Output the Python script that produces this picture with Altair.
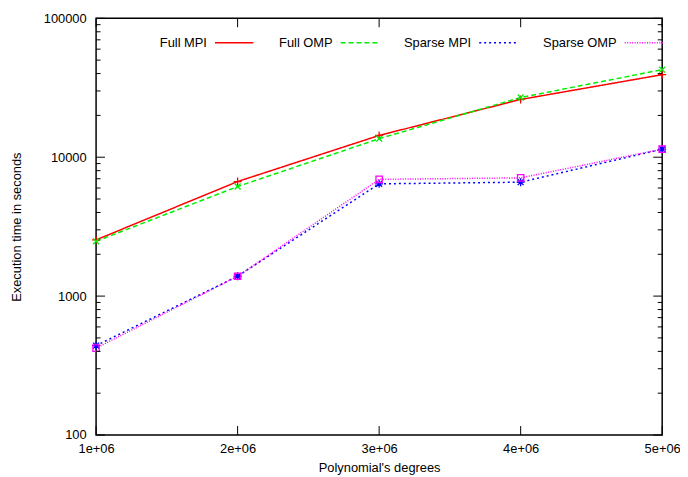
import altair as alt
import pandas as pd

degrees = [1e6, 2e6, 3e6, 4e6, 5e6]
series_names = ["Full MPI", "Full OMP", "Sparse MPI", "Sparse OMP"]
full_mpi = [2540, 6680, 14350, 26050, 39300]
full_omp = [2480, 6150, 13600, 26900, 42700]
sparse_mpi = [440, 1390, 6430, 6610, 11430]
sparse_omp = [422, 1390, 6930, 7100, 11430]

colors = ["#ff0000", "#00ee00", "#0000ff", "#ff00ff"]
dashes = [[1, 0], [5, 3], [2, 3], [1, 1.5]]
shapes = [
    "M-1,0L1,0M0,-1L0,1",
    "M-0.75,-0.75L0.75,0.75M-0.75,0.75L0.75,-0.75",
    "M-1,0L1,0M0,-1L0,1M-0.75,-0.75L0.75,0.75M-0.75,0.75L0.75,-0.75",
    "M-0.8,-0.8L0.8,-0.8L0.8,0.8L-0.8,0.8Z",
]

y_major = [100, 1000, 10000, 100000]
y_minor = [m * d for d in [100, 1000, 10000] for m in range(2, 10)]
x_major = [1e6, 2e6, 3e6, 4e6, 5e6]

rows = []
for name, vals in zip(series_names, [full_mpi, full_omp, sparse_mpi, sparse_omp]):
    for d, v in zip(degrees, vals):
        rows.append({"degree": d, "time": v, "series": name})
df = pd.DataFrame(rows)

W, H = 572, 421
FONT = "Liberation Sans"

xscale = alt.Scale(domain=[1e6, 5e6], nice=False, zero=False)
yscale = alt.Scale(type="log", domain=[100, 100000], nice=False)

color = alt.Color(
    "series:N",
    scale=alt.Scale(domain=series_names, range=colors),
    legend=alt.Legend(
        title=None,
        orient="none",
        legendX=119,
        legendY=4,
        direction="horizontal",
        columns=4,
        symbolType="stroke",
        symbolSize=1500,
        symbolStrokeWidth=1.5,
        labelAlign="right",
        labelOffset={"expr": "-48"},
        columnPadding=22,
        labelFont=FONT,
        labelFontSize=13,
        labelColor="black",
    ),
)
dash = alt.StrokeDash(
    "series:N",
    scale=alt.Scale(domain=series_names, range=dashes),
    legend=alt.Legend(title=None),
)

xaxis = alt.Axis(
    values=x_major,
    labelExpr="replace(format(datum.value, '.0e'), '+', '+0')",
    ticks=False,
    domain=False,
    grid=False,
    labelFlush=False,
    labelPadding=8,
    title="Polynomial's degrees",
    titlePadding=6,
)
yaxis = alt.Axis(
    values=y_major,
    format="d",
    ticks=False,
    domain=False,
    grid=False,
    labelFlush=False,
    labelPadding=10,
    title="Execution time in seconds",
    titlePadding=20,
)

lines = alt.Chart(df).mark_line(strokeWidth=1.5).encode(
    x=alt.X("degree:Q", scale=xscale, axis=xaxis),
    y=alt.Y("time:Q", scale=yscale, axis=yaxis),
    color=color,
    strokeDash=dash,
    order=alt.Order("degree:Q"),
)

point_layers = []
for name, col, shp in zip(series_names, colors, shapes):
    point_layers.append(
        alt.Chart(df)
        .transform_filter(alt.datum.series == name)
        .mark_point(filled=False, size=64, strokeWidth=1.3, opacity=1, shape=shp, color=col)
        .encode(
            x=alt.X("degree:Q", scale=xscale, axis=xaxis),
            y=alt.Y("time:Q", scale=yscale, axis=yaxis),
        )
    )

ymaj_df = pd.DataFrame({"v": y_major})
ymin_df = pd.DataFrame({"v": y_minor})
xmaj_df = pd.DataFrame({"v": x_major})

def yticks(data, length):
    left = alt.Chart(data).mark_rule(color="black", strokeWidth=1).encode(
        y=alt.Y("v:Q", scale=yscale, axis=yaxis), x=alt.value(0), x2=alt.value(length)
    )
    right = alt.Chart(data).mark_rule(color="black", strokeWidth=1).encode(
        y=alt.Y("v:Q", scale=yscale, axis=yaxis), x=alt.value(W), x2=alt.value(W - length)
    )
    return left + right

xt_bottom = alt.Chart(xmaj_df).mark_rule(color="black", strokeWidth=1).encode(
    x=alt.X("v:Q", scale=xscale, axis=xaxis), y=alt.value(H), y2=alt.value(H - 9)
)
xt_top = alt.Chart(xmaj_df).mark_rule(color="black", strokeWidth=1).encode(
    x=alt.X("v:Q", scale=xscale, axis=xaxis), y=alt.value(0), y2=alt.value(9)
)

chart = (
    alt.layer(lines, *point_layers, yticks(ymaj_df, 9), yticks(ymin_df, 4.5), xt_bottom, xt_top)
    .properties(
        width=W,
        height=H,
        autosize=alt.AutoSizeParams(type="none"),
        padding={"left": 89, "top": 8, "right": 18, "bottom": 38},
        background="white",
    )
    .configure_view(stroke="black", strokeWidth=1.5)
    .configure_axis(
        labelFont=FONT,
        labelFontSize=13,
        labelColor="black",
        titleFont=FONT,
        titleFontSize=13,
        titleFontWeight="normal",
        titleColor="black",
    )
)

chart.save("out.html", embed_options={"renderer": "svg", "actions": False})
